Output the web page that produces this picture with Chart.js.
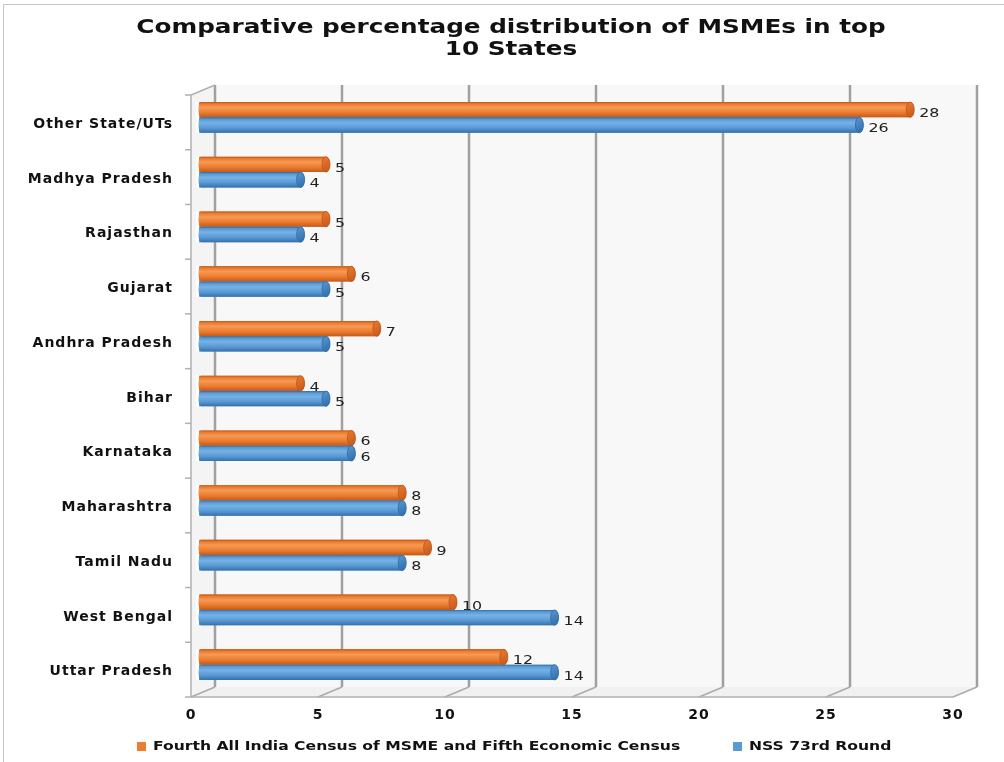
<!DOCTYPE html>
<html>
<head>
<meta charset="utf-8">
<title>Comparative percentage distribution of MSMEs in top 10 States</title>
<script src="https://cdn.jsdelivr.net/npm/chart.js@4.4.1/dist/chart.umd.min.js"></script>
<style>
  html, body { margin: 0; padding: 0; background: #ffffff; }
  #wrap { position: relative; width: 1004px; height: 762px; }
  canvas { display: block; }
</style>
</head>
<body>
<div id="wrap"><canvas id="chart" width="1004" height="762"></canvas></div>
<script>
// States, top to bottom
const categories = [
  'Other State/UTs', 'Madhya Pradesh', 'Rajasthan', 'Gujarat', 'Andhra Pradesh',
  'Bihar', 'Karnataka', 'Maharashtra', 'Tamil Nadu', 'West Bengal', 'Uttar Pradesh'
];
// Share of MSMEs (%) by source
const censusValues = [28, 5, 5, 6, 7, 4, 6, 8, 9, 10, 12];
const nssValues    = [26, 4, 4, 5, 5, 5, 6, 8, 8, 14, 14];
const seriesNames = [
  'Fourth All India Census of MSME and Fifth Economic Census',
  'NSS 73rd Round'
];
const xTicks = [0, 5, 10, 15, 20, 25, 30];
const titleLines = ['Comparative percentage distribution of MSMEs in top', '10 States'];

const palette = {
  orange: { base: '#ED7D31', edge: '#b9561a', light: '#f59a55', mid: '#ec7a2d', dark: '#c05a1c', cap: '#c4581b' },
  blue:   { base: '#5B9BD5', edge: '#2f6aa6', light: '#76b2e6', mid: '#5898d3', dark: '#3670ab', cap: '#2f6ba8' }
};
const seriesStyle = [palette.orange, palette.blue];

// 3D depth offsets: back wall sits up-right, front floor edge down-left
const BACK = { dx: 16, dy: -5 };
const FRONT = { dx: -8, dy: 5 };

// Draw text widened horizontally by factor sx
function wideText(ctx, text, x, y, sx, align) {
  ctx.save();
  ctx.translate(x, y);
  ctx.scale(sx, 1);
  ctx.textAlign = align;
  ctx.fillText(text, 0, 0);
  ctx.restore();
}

const wallsPlugin = {
  id: 'walls',
  beforeDraw(chart) {
    // slightly spaced axis lettering
    chart.ctx.letterSpacing = '1px';
  },
  beforeDatasetsDraw(chart) {
    const { ctx, chartArea: a, scales: { x, y } } = chart;
    const x0 = x.getPixelForValue(xTicks[0]);
    const xN = x.getPixelForValue(xTicks[xTicks.length - 1]);
    const top = a.top, bot = a.bottom;
    ctx.save();
    // back wall
    ctx.fillStyle = '#f8f8f8';
    ctx.fillRect(x0 + BACK.dx, top + BACK.dy, xN - x0, bot - top);
    // floor
    ctx.fillStyle = '#f1f1f1';
    ctx.beginPath();
    ctx.moveTo(x0 + FRONT.dx, bot + FRONT.dy);
    ctx.lineTo(xN + FRONT.dx, bot + FRONT.dy);
    ctx.lineTo(xN + BACK.dx, bot + BACK.dy);
    ctx.lineTo(x0 + BACK.dx, bot + BACK.dy);
    ctx.closePath();
    ctx.fill();
    // side wall
    ctx.fillStyle = '#f4f4f4';
    ctx.beginPath();
    ctx.moveTo(x0 + FRONT.dx, top + FRONT.dy);
    ctx.lineTo(x0 + BACK.dx, top + BACK.dy);
    ctx.lineTo(x0 + BACK.dx, bot + BACK.dy);
    ctx.lineTo(x0 + FRONT.dx, bot + FRONT.dy);
    ctx.closePath();
    ctx.fill();

    // vertical gridlines on the back wall + floor diagonals
    xTicks.forEach((v) => {
      const px = x.getPixelForValue(v);
      ctx.strokeStyle = '#a0a0a0';
      ctx.lineWidth = 2.5;
      ctx.beginPath();
      ctx.moveTo(px + BACK.dx, top + BACK.dy);
      ctx.lineTo(px + BACK.dx, bot + BACK.dy);
      ctx.stroke();
      ctx.lineWidth = 1.5;
      ctx.strokeStyle = '#ababab';
      ctx.beginPath();
      ctx.moveTo(px + BACK.dx, bot + BACK.dy);
      ctx.lineTo(px + FRONT.dx, bot + FRONT.dy);
      ctx.stroke();
    });
    // floor front edge
    ctx.strokeStyle = '#b0b0b0';
    ctx.lineWidth = 1.5;
    ctx.beginPath();
    ctx.moveTo(x0 + FRONT.dx, bot + FRONT.dy);
    ctx.lineTo(xN + FRONT.dx, bot + FRONT.dy);
    ctx.stroke();
    // side wall front edge and top diagonal
    ctx.beginPath();
    ctx.moveTo(x0 + FRONT.dx, bot + FRONT.dy);
    ctx.lineTo(x0 + FRONT.dx, top + FRONT.dy);
    ctx.lineTo(x0 + BACK.dx, top + BACK.dy);
    ctx.stroke();
    // category separators on the side wall
    for (let i = 0; i <= categories.length; i++) {
      const py = y.getPixelForValue(i - 0.5) + FRONT.dy;
      ctx.beginPath();
      ctx.moveTo(x0 + FRONT.dx - 6, py);
      ctx.lineTo(x0 + FRONT.dx, py);
      ctx.stroke();
    }
    ctx.restore();
  }
};

// Cylinder shading, end caps and value labels
const cylinderPlugin = {
  id: 'cylinders',
  afterDatasetsDraw(chart) {
    const { ctx } = chart;
    ctx.save();
    ctx.letterSpacing = '0px';
    chart.data.datasets.forEach((ds, di) => {
      const meta = chart.getDatasetMeta(di);
      const c = seriesStyle[di];
      meta.data.forEach((el, i) => {
        const { x, y, base, height } = el.getProps(['x', 'y', 'base', 'height'], true);
        const t = y - height / 2, b = y + height / 2, r = height / 2, rx = 4;
        const g = ctx.createLinearGradient(0, t, 0, b);
        g.addColorStop(0, c.edge);
        g.addColorStop(0.12, c.mid);
        g.addColorStop(0.35, c.light);
        g.addColorStop(0.7, c.mid);
        g.addColorStop(1, c.dark);
        ctx.fillStyle = '#ffffff';
        ctx.fillRect(base - 3, t, 3, height);
        ctx.fillStyle = g;
        ctx.beginPath();
        ctx.moveTo(base + 2, t);
        ctx.lineTo(x, t);
        ctx.ellipse(x, y, rx, r, 0, -Math.PI / 2, Math.PI / 2);
        ctx.lineTo(base + 2, b);
        ctx.ellipse(base + 2, y, 2.5, r, 0, Math.PI / 2, Math.PI * 1.5);
        ctx.closePath();
        ctx.fill();
        // right end cap
        const cg = ctx.createLinearGradient(x - rx, t, x + rx, b);
        cg.addColorStop(0, c.mid);
        cg.addColorStop(1, c.cap);
        ctx.fillStyle = cg;
        ctx.beginPath();
        ctx.ellipse(x, y, rx, r, 0, 0, Math.PI * 2);
        ctx.fill();
        ctx.strokeStyle = c.edge;
        ctx.lineWidth = 0.8;
        ctx.stroke();
        // value label
        ctx.fillStyle = '#222222';
        ctx.font = '13px "DejaVu Sans"';
        ctx.textBaseline = 'middle';
        wideText(ctx, String(ds.data[i]), x + 9, y + 4, 1.22, 'left');
      });
    });
    ctx.restore();
  }
};

// Frame, title and legend
const decorPlugin = {
  id: 'decor',
  beforeDraw(chart) {
    const { ctx } = chart;
    ctx.save();
    ctx.strokeStyle = '#c4c4c4';
    ctx.lineWidth = 1;
    ctx.beginPath();
    ctx.moveTo(3.5, 762);
    ctx.lineTo(3.5, 4.5);
    ctx.lineTo(1004, 4.5);
    ctx.stroke();
    ctx.restore();
  },
  afterDraw(chart) {
    const { ctx } = chart;
    ctx.save();
    ctx.letterSpacing = '0px';
    ctx.fillStyle = '#111111';
    ctx.font = 'bold 19px "DejaVu Sans"';
    ctx.textBaseline = 'middle';
    wideText(ctx, titleLines[0], 511, 28, 1.3, 'center');
    wideText(ctx, titleLines[1], 511, 50, 1.3, 'center');

    ctx.font = 'bold 13px "DejaVu Sans"';
    const legendX = [137, 733];
    chart.data.datasets.forEach((ds, di) => {
      ctx.fillStyle = seriesStyle[di].base;
      ctx.fillRect(legendX[di], 742, 9, 9);
      ctx.fillStyle = '#111111';
      wideText(ctx, ds.label, legendX[di] + 16, 747, 1.2, 'left');
    });
    ctx.restore();
  }
};

new Chart(document.getElementById('chart'), {
  type: 'bar',
  data: {
    labels: categories,
    datasets: [
      { label: seriesNames[0], data: censusValues, backgroundColor: palette.orange.base,
        categoryPercentage: 0.56, barPercentage: 1.0 },
      { label: seriesNames[1], data: nssValues, backgroundColor: palette.blue.base,
        categoryPercentage: 0.56, barPercentage: 1.0 }
    ]
  },
  options: {
    indexAxis: 'y',
    responsive: false,
    animation: false,
    layout: { padding: { top: 90, left: 0, right: 43, bottom: 40 } },
    plugins: {
      legend: { display: false },
      title: { display: false },
      tooltip: { enabled: false }
    },
    scales: {
      x: {
        min: 0, max: 30,
        afterBuildTicks(scale) { scale.ticks = xTicks.map((v) => ({ value: v })); },
        afterFit(scale) { scale.height = 30; },
        grid: { display: false },
        border: { display: false },
        ticks: {
          labelOffset: -8,
          padding: 7,
          color: '#111111',
          font: { family: 'DejaVu Sans', weight: 'bold', size: 14 }
        }
      },
      y: {
        afterFit(scale) { scale.width = 199; },
        grid: { display: false },
        border: { display: false },
        ticks: {
          labelOffset: 7,
          padding: 18,
          color: '#111111',
          font: { family: 'DejaVu Sans', weight: 'bold', size: 14 }
        }
      }
    }
  },
  plugins: [wallsPlugin, cylinderPlugin, decorPlugin]
});
</script>
</body>
</html>
